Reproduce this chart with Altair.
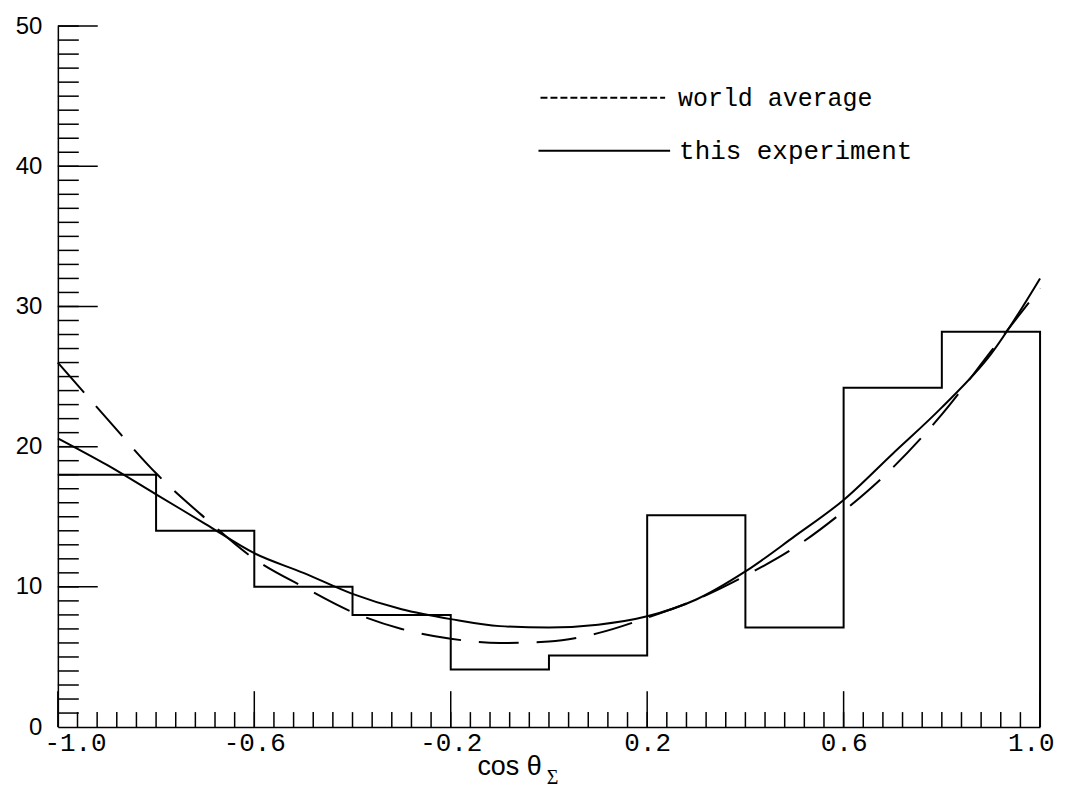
import altair as alt
import pandas as pd

# ---- data ----
bin_edges = [-1.0, -0.8, -0.6, -0.4, -0.2, 0.0, 0.2, 0.4, 0.6, 0.8, 1.0]
bin_counts = [18.0, 14.0, 10.0, 8.0, 4.1, 5.1, 15.1, 7.1, 24.2, 28.2]

curve_x = [-1.0, -0.9, -0.8, -0.7, -0.6, -0.5, -0.4, -0.3, -0.2, -0.1, 0.0,
           0.1, 0.2, 0.3, 0.4, 0.5, 0.6, 0.7, 0.8, 0.9, 1.0]
this_experiment = [20.6, 18.7, 16.6, 14.5, 12.4, 11.0, 9.5, 8.4, 7.7, 7.2, 7.1,
                   7.3, 7.9, 9.1, 11.1, 13.6, 16.2, 19.5, 22.8, 26.6, 32.0]
world_average = [26.0, 22.0, 18.1, 14.9, 12.0, 10.0, 8.2, 7.0, 6.3, 6.0, 6.1,
                 6.7, 7.8, 9.1, 10.8, 12.8, 15.4, 18.5, 22.3, 26.8, 31.3]

x_tick_labels = [-1.0, -0.6, -0.2, 0.2, 0.6, 1.0]
y_tick_labels = [0, 10, 20, 30, 40, 50]
x_minor_ticks = [round(-1.0 + 0.04 * i, 2) for i in range(1, 51)]
y_minor_ticks = list(range(1, 51))

legend_labels = ["world average", "this experiment"]

# ---- tables ----
hx, hy = [], []
for i, c in enumerate(bin_counts):
    hx += [bin_edges[i], bin_edges[i + 1]]
    hy += [c, c]
hx.append(bin_edges[-1])
hy.append(0)
hist_df = pd.DataFrame({"x": hx, "y": hy, "o": list(range(len(hx)))})
exp_df = pd.DataFrame({"x": curve_x, "y": this_experiment})
wa_df = pd.DataFrame({"x": curve_x, "y": world_average})

W, H = 985, 703
xs = alt.Scale(domain=[-1, 1], nice=False, zero=False)
ys = alt.Scale(domain=[0, 50], nice=False, zero=True)

x_axis = alt.Axis(values=x_tick_labels, ticks=False, grid=False, title=None,
                  labelExpr="datum.value < 0 ? '-' + format(-datum.value, '.1f') : format(datum.value, '.1f')",
                  labelFont="Liberation Mono", labelFontSize=26, labelColor="black",
                  labelPadding=2, labelFlush=True, labelFlushOffset=14,
                  domainColor="black", domainWidth=1.5)
y_axis = alt.Axis(values=y_tick_labels, ticks=False, grid=False, title=None,
                  labelFont="Liberation Sans", labelFontSize=24, labelColor="black",
                  labelPadding=16, domainColor="black", domainWidth=1.5)


def X(field):
    return alt.X(field, scale=xs, axis=x_axis)


def Y(field):
    return alt.Y(field, scale=ys, axis=y_axis)


hist = alt.Chart(hist_df).mark_line(color="black", strokeWidth=2, interpolate="linear").encode(
    x=X("x:Q"), y=Y("y:Q"), order="o:Q")

exp_line = alt.Chart(exp_df).mark_line(color="black", strokeWidth=2, interpolate="monotone").encode(
    x=X("x:Q"), y=Y("y:Q"))
wa_line = alt.Chart(wa_df).mark_line(color="black", strokeWidth=2, interpolate="monotone",
                                     strokeDash=[40, 18]).encode(x=X("x:Q"), y=Y("y:Q"))

# ticks (drawn inward)
y_minor = alt.Chart(pd.DataFrame({"y": y_minor_ticks})).mark_rule(color="black", strokeWidth=1.5).encode(
    y=Y("y:Q"), x=alt.value(0), x2=alt.value(21))
y_major = alt.Chart(pd.DataFrame({"y": y_tick_labels[1:]})).mark_rule(color="black", strokeWidth=1.5).encode(
    y=Y("y:Q"), x=alt.value(0), x2=alt.value(40))
x_minor = alt.Chart(pd.DataFrame({"x": x_minor_ticks})).mark_rule(color="black", strokeWidth=1.5).encode(
    x=X("x:Q"), y=alt.value(H), y2=alt.value(H - 15))
x_major = alt.Chart(pd.DataFrame({"x": x_tick_labels})).mark_rule(color="black", strokeWidth=1.5).encode(
    x=X("x:Q"), y=alt.value(H), y2=alt.value(H - 36))

# legend
leg_wa_line = alt.Chart(pd.DataFrame({"a": [0]})).mark_rule(color="black", strokeWidth=2, strokeDash=[7, 3]).encode(
    x=alt.value(484), x2=alt.value(609), y=alt.value(72))
leg_exp_line = alt.Chart(pd.DataFrame({"a": [0]})).mark_rule(color="black", strokeWidth=2).encode(
    x=alt.value(482), x2=alt.value(614), y=alt.value(125))
leg_wa_text = alt.Chart(pd.DataFrame({"t": [legend_labels[0]]})).mark_text(
    font="Liberation Mono", fontSize=25, align="left", baseline="middle", color="black").encode(
    text="t:N", x=alt.value(622), y=alt.value(72))
leg_exp_text = alt.Chart(pd.DataFrame({"t": [legend_labels[1]]})).mark_text(
    font="Liberation Mono", fontSize=26, align="left", baseline="middle", color="black").encode(
    text="t:N", x=alt.value(623), y=alt.value(125))

# axis title: cos θ with subscript Σ
title_main = alt.Chart(pd.DataFrame({"t": ["cos θ"]})).mark_text(
    font="Liberation Sans", fontSize=27, align="center", baseline="middle", color="black").encode(
    text="t:N", x=alt.value(453), y=alt.value(743))
title_sub = alt.Chart(pd.DataFrame({"t": ["Σ"]})).mark_text(
    font="Liberation Serif", fontSize=20, align="center", baseline="middle", color="black").encode(
    text="t:N", x=alt.value(496), y=alt.value(754))

chart = alt.layer(
    hist, exp_line, wa_line, y_minor, y_major, x_minor, x_major,
    leg_wa_line, leg_exp_line, leg_wa_text, leg_exp_text, title_main, title_sub
).properties(
    width=W, height=H,
    autosize=alt.AutoSizeParams(type="none"),
    padding={"left": 50, "top": 17, "right": 20, "bottom": 66},
    background="white",
).configure_view(stroke=None)

chart.save("out.html", embed_options={"renderer": "svg", "actions": False})
